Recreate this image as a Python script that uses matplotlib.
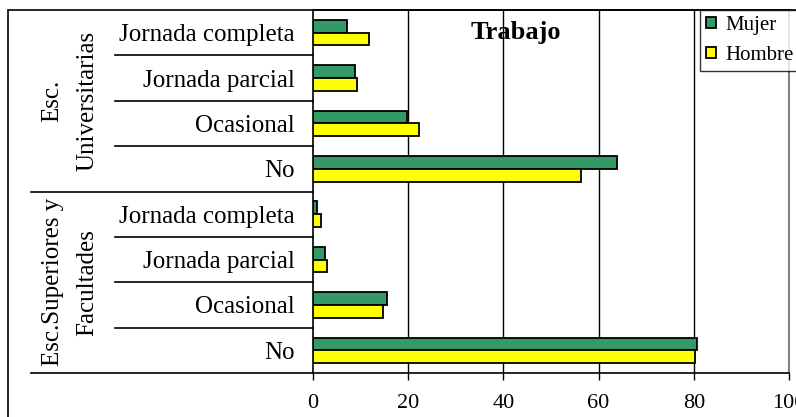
import matplotlib.pyplot as plt
from matplotlib.patches import Rectangle
import numpy as np

plt.rcParams['font.family'] = ['Liberation Serif', 'DejaVu Serif']

# Data (percent), top to bottom
categorias = ["Jornada completa", "Jornada parcial", "Ocasional", "No",
              "Jornada completa", "Jornada parcial", "Ocasional", "No"]
grupos = ["Esc.\nUniversitarias", "Esc.Superiores y\nFacultades"]
mujer = [7.2, 8.8, 19.8, 63.9, 0.9, 2.5, 15.6, 80.7]
hombre = [11.7, 9.3, 22.3, 56.3, 1.7, 2.9, 14.7, 80.3]
xticks = [0, 20, 40, 60, 80, 100]

W, H = 796, 417
fig = plt.figure(figsize=(W / 100, H / 100), dpi=100)
fig.patch.set_facecolor('white')

# outer frame (cut off at right and bottom)
fig.add_artist(Rectangle((8 / W, -0.1), 1.2, 1 - 10 / H + 0.1, transform=fig.transFigure,
                         fill=False, edgecolor='black', linewidth=1.2))

ax = fig.add_axes([313 / W, (H - 373) / H, (789 - 313) / W, (373 - 10) / H])

y = np.arange(len(categorias))
h = 0.28
ax.barh(y - h / 2, mujer, height=h, color='#339966', edgecolor='black', linewidth=1.3, label='Mujer', zorder=3)
ax.barh(y + h / 2, hombre, height=h, color='#ffff00', edgecolor='black', linewidth=1.3, label='Hombre', zorder=3)

ax.set_xlim(0, 100)
ax.set_ylim(len(categorias) - 0.5, -0.5)
ax.set_xticks(xticks)
ax.set_xticklabels([str(v) for v in xticks], fontsize=16)
ax.tick_params(axis='x', length=5, width=1, pad=10, direction='out')
ax.set_yticks(y)
ax.set_yticklabels(categorias, fontsize=18)
ax.tick_params(axis='y', length=0, pad=13)

for v in xticks[1:-1]:
    ax.axvline(v, color='black', linewidth=1, zorder=1)

for s in ['left', 'bottom', 'top']:
    ax.spines[s].set_color('black')
    ax.spines[s].set_linewidth(1.2)
ax.spines['right'].set_color('#808080')
ax.spines['right'].set_linewidth(1.5)

# category separators extending left
tr = ax.get_yaxis_transform()
axw = (789 - 313)
for i in range(1, len(categorias) + 1):
    x0 = (31 - 313) / axw if i in (4, 8) else (115 - 313) / axw
    ax.plot([x0, 0], [i - 0.5, i - 0.5], color='black', linewidth=1.2, transform=tr, clip_on=False)

# group labels
gx = (70 - 313) / axw
ax.text(gx, 1.5, grupos[0], rotation=90, transform=tr, ha='center', va='center',
        fontsize=18, linespacing=1.75, multialignment='center')
ax.text(gx, 5.5, grupos[1], rotation=90, transform=tr, ha='center', va='center',
        fontsize=18, linespacing=1.75, multialignment='center')

ax.text((516 - 313) / axw, 0.0, "Trabajo", transform=tr, ha='center', va='center',
        fontsize=19, fontweight='bold')

leg = fig.legend(loc='upper left', bbox_to_anchor=(700 / W, 1 - 10 / H), fontsize=15,
                 frameon=True, fancybox=False, edgecolor='black', handlelength=0.45,
                 handleheight=0.45, handletextpad=0.45, borderpad=0.3, labelspacing=0.5,
                 borderaxespad=0)
leg.get_frame().set_linewidth(1)

fig.savefig('out.png', dpi=100)
